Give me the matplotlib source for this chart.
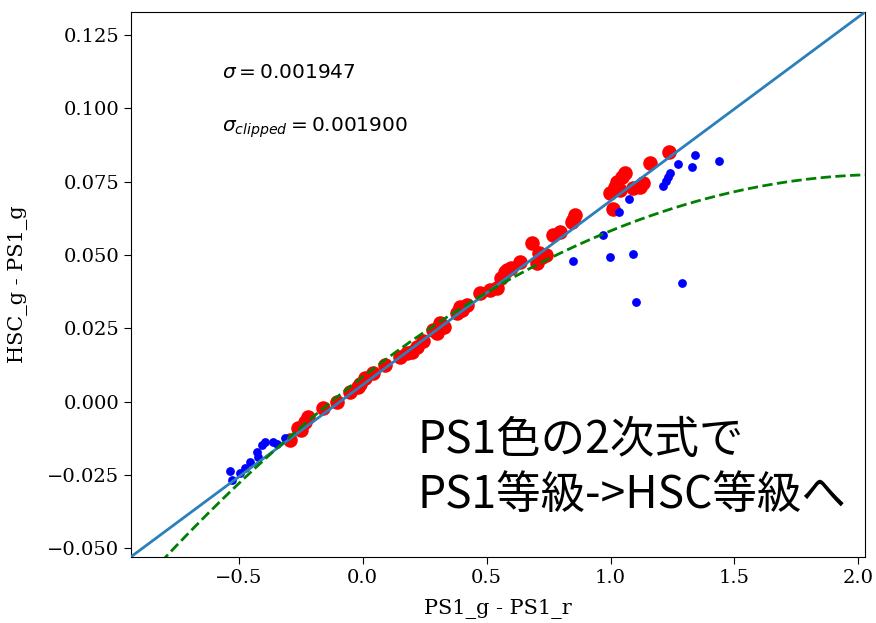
import numpy as np
import matplotlib
matplotlib.use("Agg")
import matplotlib.pyplot as plt

# clipped (red) points: PS1 g-r colour vs HSC_g - PS1_g
red_x = [-0.294, -0.247, -0.233, -0.260, -0.220, -0.159, -0.105, -0.052, -0.018, 0.042,
         0.090, 0.150, 0.177, 0.218, 0.285, 0.312, 0.379, 0.392, 0.473, 0.540,
         0.513, 0.574, 0.581, 0.634, 0.682, 0.702, 0.722, 0.769, 0.796, 0.843,
         0.856, 0.998, 1.011, 1.018, 1.025, 1.058, 1.092, 1.119, 1.132, 1.159, 1.237,
         0.300, 0.330, 0.400, 0.420, 0.560, 0.600, 0.740, 0.200, 0.245, 1.040, 1.045,
         0.850, 0.710, -0.010, 0.010]
red_y = [-0.0131, -0.0097, -0.0069, -0.0091, -0.0052, -0.0023, 0.0000, 0.0033, 0.0050, 0.0096,
         0.0125, 0.0153, 0.0164, 0.0187, 0.0244, 0.0267, 0.0301, 0.0323, 0.0369, 0.0386,
         0.0380, 0.0443, 0.0448, 0.0477, 0.0539, 0.0471, 0.0494, 0.0568, 0.0579, 0.0613,
         0.0636, 0.0710, 0.0655, 0.0733, 0.0750, 0.0778, 0.0727, 0.0733, 0.0744, 0.0812, 0.0850,
         0.0232, 0.0255, 0.0312, 0.0330, 0.0420, 0.0455, 0.0500, 0.0170, 0.0205, 0.0720, 0.0765,
         0.0620, 0.0505, 0.0060, 0.0080]

# rejected (blue) points
blue_x = [-0.536, -0.529, -0.496, -0.475, -0.455, -0.428, -0.422, -0.408, -0.395, -0.361,
          -0.347, -0.314, 0.849, 0.971, 0.996, 1.035, 1.074, 1.090, 1.104, 1.210,
          1.224, 1.233, 1.241, 1.271, 1.289, 1.330, 1.339, 1.437]
blue_y = [-0.0236, -0.0268, -0.0245, -0.0228, -0.0205, -0.0171, -0.0188, -0.0148, -0.0137, -0.0137,
          -0.0145, -0.0126, 0.0479, 0.0568, 0.0492, 0.0647, 0.0690, 0.0502, 0.0339, 0.0734,
          0.0751, 0.0765, 0.0778, 0.0811, 0.0405, 0.0801, 0.0841, 0.0820]

# linear fit and quadratic (PS1 colour) transformation
lin_coef = [0.0627, 0.0057]
quad_coef = [-0.01535, 0.06508, 0.00845]

sigma_all = 0.001947
sigma_clip = 0.001900

xlim = (-0.935, 2.027)
ylim = (-0.053, 0.1328)

fig = plt.figure(figsize=(8.76, 6.23), dpi=100)
ax = fig.add_axes([131/876, 1-557/623, 734/876, 545/623])

ax.scatter(red_x, red_y, s=110, c="r", linewidths=0, zorder=2)
ax.scatter(blue_x, blue_y, s=40, c="b", linewidths=0, zorder=2)

xx = np.linspace(xlim[0], xlim[1], 200)
ax.plot(xx, np.polyval(lin_coef, xx), color="#2b7fbb", lw=2, zorder=3)
ax.plot(xx, np.polyval(quad_coef, xx), "g--", lw=2, zorder=3)

ax.set_xlim(xlim)
ax.set_ylim(ylim)
ax.set_xticks(np.arange(-0.5, 2.01, 0.5))
ax.set_yticks(np.arange(-0.05, 0.126, 0.025))

for lab in ax.get_xticklabels() + ax.get_yticklabels():
    lab.set_family("DejaVu Serif")
    lab.set_fontsize(14)
ax.tick_params(length=5)

ax.set_xlabel("PS1_g - PS1_r", family="DejaVu Serif", fontsize=15, labelpad=9)
ax.set_ylabel("HSC_g - PS1_g", family="DejaVu Serif", fontsize=15, labelpad=14)

ax.text(0.124, 0.878, r"$\sigma = %.6f$" % sigma_all, transform=ax.transAxes,
        fontsize=14.5, va="baseline")
ax.text(0.124, 0.780, r"$\sigma_{clipped} = %.6f$" % sigma_clip, transform=ax.transAxes,
        fontsize=14.5, va="baseline")

# 注釈
fig.text(418/876, 1-508/623, "PS1色の2次式で\nPS1等級->HSC等級へ",
         family=["Noto Sans CJK JP", "DejaVu Sans"], fontsize=32,
         va="baseline", linespacing=1.25)

fig.savefig("out.png", dpi=100)
